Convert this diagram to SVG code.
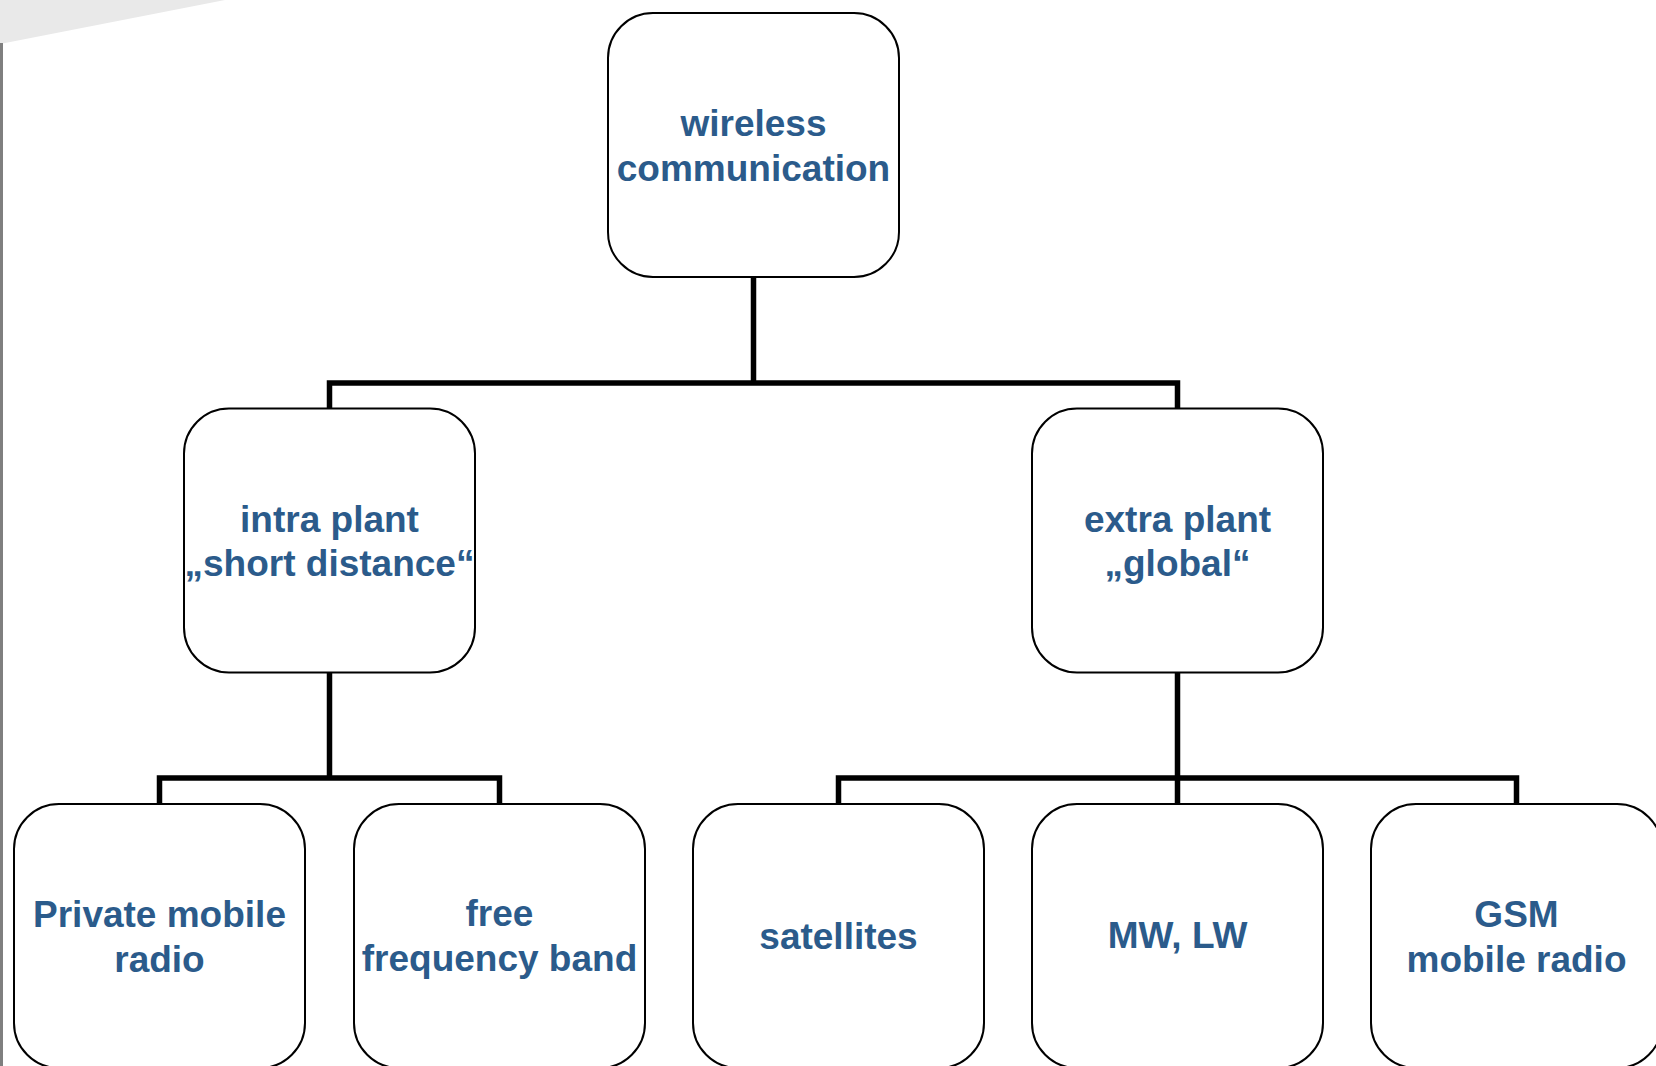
<svg xmlns="http://www.w3.org/2000/svg" width="1656" height="1066" viewBox="0 0 1656 1066">
<style>
.box{fill:#ffffff;stroke:#000000;stroke-width:2}
.lbl{font-family:"Liberation Sans",Arial,sans-serif;font-weight:bold;font-size:37px;fill:#2b5b8b;text-anchor:middle}
.con{fill:none;stroke:#000000;stroke-width:5.5;stroke-linejoin:miter}
</style>
<rect x="0" y="0" width="1656" height="1066" fill="#ffffff"/>
<polygon points="0,0 225,0 0,44" fill="#e9e9e9"/>
<rect x="0" y="43" width="3" height="1023" fill="#7f7f7f"/>
<g id="connectors">
<path class="con" d="M753.5 277 V383"/>
<path class="con" d="M329.5 408 V383 H1177.5 V408"/>
<path class="con" d="M329.5 673 V778"/>
<path class="con" d="M159.5 804 V778 H499.5 V804"/>
<path class="con" d="M1177.5 673 V804"/>
<path class="con" d="M838.5 804 V778 H1516.5 V804"/>
</g>
<g id="wireless">
<rect class="box" x="608" y="13" width="291" height="264" rx="45" ry="45"/>
<text class="lbl" x="753.5" y="136">wireless</text>
<text class="lbl" x="753.5" y="181">communication</text>
</g>
<g id="intra">
<rect class="box" x="184" y="408.5" width="291" height="264" rx="45" ry="45"/>
<text class="lbl" x="329.5" y="532">intra plant</text>
<text class="lbl" x="329.5" y="576">„short distance“</text>
</g>
<g id="extra">
<rect class="box" x="1032" y="408.5" width="291" height="264" rx="45" ry="45"/>
<text class="lbl" x="1177.5" y="532">extra plant</text>
<text class="lbl" x="1177.5" y="576">„global“</text>
</g>
<g id="private">
<rect class="box" x="14" y="804" width="291" height="264" rx="45" ry="45"/>
<text class="lbl" x="159.5" y="926.5">Private mobile</text>
<text class="lbl" x="159.5" y="971.5">radio</text>
</g>
<g id="free">
<rect class="box" x="354" y="804" width="291" height="264" rx="45" ry="45"/>
<text class="lbl" x="499.5" y="926">free</text>
<text class="lbl" x="499.5" y="971">frequency band</text>
</g>
<g id="satellites">
<rect class="box" x="693" y="804" width="291" height="264" rx="45" ry="45"/>
<text class="lbl" x="838.5" y="949">satellites</text>
</g>
<g id="mwlw">
<rect class="box" x="1032" y="804" width="291" height="264" rx="45" ry="45"/>
<text class="lbl" x="1177.5" y="948">MW, LW</text>
</g>
<g id="gsm">
<rect class="box" x="1371" y="804" width="291" height="264" rx="45" ry="45"/>
<text class="lbl" x="1516.5" y="927">GSM</text>
<text class="lbl" x="1516.5" y="971.5">mobile radio</text>
</g>
</svg>
